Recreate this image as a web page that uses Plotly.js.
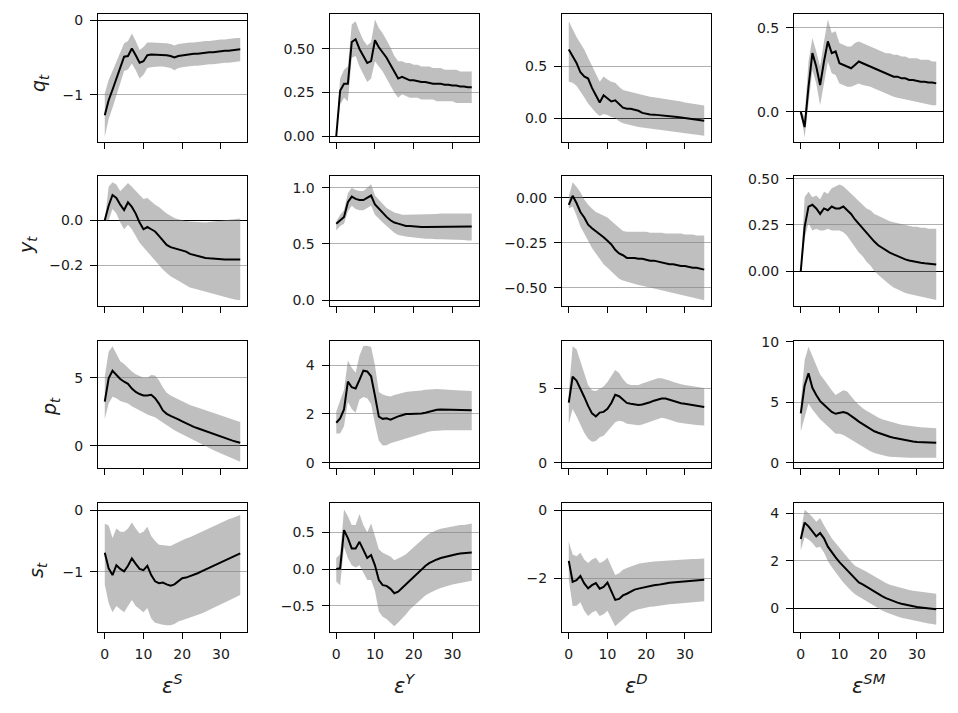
<!DOCTYPE html>
<html>
<head>
<meta charset="utf-8">
<script src="https://cdn.plot.ly/plotly-3.0.1.min.js"></script>
<style>html,body{margin:0;padding:0;background:#fff;}</style>
</head>
<body>
<div id="chart" style="width:958px;height:713px;"></div>
<script>
// ---------------- DATA ----------------
const horizons = [0,1,2,3,4,5,6,7,8,9,10,11,12,13,14,15,16,17,18,19,20,21,22,23,24,25,26,27,28,29,30,31,32,33,34,35];

const shockLabels = ["S","Y","D","SM"];
const variableLabels = ["q","y","p","s"];

// q_t
const q_S_mean = [-1.27,-1.07,-0.93,-0.78,-0.63,-0.49,-0.48,-0.38,-0.47,-0.57,-0.55,-0.47,-0.46,-0.46,-0.46,-0.46,-0.47,-0.48,-0.50,-0.48,-0.47,-0.46,-0.46,-0.45,-0.45,-0.44,-0.44,-0.43,-0.43,-0.42,-0.42,-0.41,-0.41,-0.40,-0.40,-0.39];
const q_S_hi   = [-0.98,-0.80,-0.68,-0.55,-0.42,-0.31,-0.28,-0.18,-0.28,-0.40,-0.36,-0.30,-0.30,-0.30,-0.30,-0.30,-0.31,-0.32,-0.34,-0.32,-0.31,-0.31,-0.30,-0.30,-0.29,-0.29,-0.28,-0.28,-0.27,-0.27,-0.26,-0.26,-0.25,-0.25,-0.24,-0.24];
const q_S_lo   = [-1.56,-1.32,-1.17,-1.01,-0.85,-0.68,-0.66,-0.58,-0.67,-0.78,-0.73,-0.64,-0.63,-0.62,-0.62,-0.62,-0.63,-0.64,-0.67,-0.64,-0.63,-0.62,-0.62,-0.61,-0.61,-0.60,-0.60,-0.59,-0.59,-0.58,-0.58,-0.57,-0.57,-0.56,-0.56,-0.55];

const q_Y_mean = [0,0.26,0.30,0.30,0.54,0.556,0.50,0.46,0.42,0.43,0.55,0.51,0.48,0.45,0.41,0.37,0.33,0.34,0.33,0.32,0.32,0.315,0.31,0.31,0.305,0.30,0.30,0.30,0.295,0.295,0.29,0.29,0.285,0.285,0.28,0.28];
const q_Y_hi   = [0,0.33,0.38,0.40,0.64,0.66,0.60,0.55,0.52,0.54,0.67,0.62,0.59,0.55,0.51,0.46,0.43,0.43,0.42,0.42,0.41,0.41,0.40,0.40,0.40,0.39,0.39,0.39,0.38,0.38,0.38,0.38,0.37,0.37,0.37,0.37];
const q_Y_lo   = [0,0.18,0.22,0.20,0.45,0.46,0.40,0.35,0.31,0.33,0.43,0.40,0.37,0.33,0.29,0.25,0.22,0.24,0.23,0.22,0.22,0.22,0.21,0.21,0.21,0.21,0.20,0.20,0.20,0.20,0.20,0.19,0.19,0.19,0.19,0.19];

const q_D_mean = [0.66,0.60,0.53,0.44,0.40,0.38,0.29,0.22,0.15,0.22,0.19,0.16,0.17,0.13,0.10,0.09,0.09,0.08,0.07,0.05,0.04,0.035,0.033,0.03,0.028,0.025,0.02,0.015,0.01,0.005,0.0,-0.005,-0.01,-0.015,-0.02,-0.025];
const q_D_hi   = [0.93,0.85,0.78,0.72,0.66,0.58,0.50,0.42,0.35,0.40,0.37,0.35,0.34,0.30,0.27,0.26,0.25,0.24,0.23,0.22,0.21,0.205,0.20,0.195,0.19,0.185,0.18,0.17,0.165,0.16,0.15,0.145,0.14,0.13,0.125,0.12];
const q_D_lo   = [0.35,0.34,0.31,0.26,0.20,0.14,0.09,0.05,0.02,0.04,0.03,0.01,0.0,-0.03,-0.05,-0.06,-0.07,-0.08,-0.085,-0.09,-0.095,-0.10,-0.105,-0.11,-0.115,-0.12,-0.125,-0.13,-0.135,-0.14,-0.145,-0.15,-0.155,-0.16,-0.165,-0.17];

const q_SM_mean = [0.0,-0.09,0.15,0.35,0.27,0.16,0.30,0.42,0.35,0.36,0.29,0.28,0.27,0.26,0.28,0.30,0.29,0.28,0.27,0.26,0.25,0.24,0.23,0.22,0.21,0.21,0.20,0.20,0.19,0.19,0.185,0.18,0.18,0.175,0.175,0.17];
const q_SM_hi   = [0.01,-0.03,0.30,0.44,0.36,0.27,0.42,0.55,0.47,0.48,0.41,0.40,0.39,0.39,0.41,0.42,0.41,0.40,0.39,0.38,0.37,0.36,0.35,0.35,0.34,0.34,0.33,0.33,0.32,0.32,0.32,0.31,0.31,0.31,0.30,0.30];
const q_SM_lo   = [-0.01,-0.15,0.05,0.25,0.17,0.04,0.17,0.30,0.23,0.22,0.17,0.16,0.15,0.15,0.16,0.17,0.16,0.155,0.15,0.14,0.13,0.12,0.11,0.10,0.09,0.085,0.08,0.075,0.07,0.065,0.06,0.055,0.05,0.045,0.04,0.04];

// y_t
const y_S_mean = [0.0,0.065,0.113,0.10,0.07,0.046,0.08,0.06,0.03,-0.01,-0.04,-0.03,-0.04,-0.05,-0.07,-0.09,-0.11,-0.12,-0.125,-0.13,-0.135,-0.14,-0.15,-0.155,-0.16,-0.164,-0.168,-0.17,-0.172,-0.173,-0.174,-0.175,-0.175,-0.175,-0.175,-0.175];
const y_S_hi   = [0.0,0.15,0.17,0.16,0.13,0.15,0.167,0.15,0.13,0.11,0.095,0.10,0.085,0.07,0.06,0.045,0.03,0.02,0.01,0.005,0.0,-0.003,-0.005,-0.007,-0.009,-0.01,-0.01,-0.008,-0.006,-0.004,-0.002,0.0,0.002,0.004,0.006,0.008];
const y_S_lo   = [0.0,0.0,0.05,0.03,-0.01,-0.04,-0.02,-0.04,-0.07,-0.10,-0.12,-0.14,-0.16,-0.18,-0.20,-0.22,-0.235,-0.25,-0.26,-0.27,-0.28,-0.29,-0.30,-0.305,-0.31,-0.315,-0.32,-0.325,-0.33,-0.335,-0.34,-0.345,-0.35,-0.352,-0.355,-0.357];

const y_Y_mean = [0.68,0.71,0.74,0.87,0.92,0.90,0.89,0.89,0.91,0.93,0.85,0.81,0.78,0.74,0.71,0.69,0.68,0.67,0.66,0.66,0.655,0.655,0.65,0.65,0.65,0.65,0.65,0.655,0.655,0.655,0.655,0.655,0.655,0.655,0.655,0.655];
const y_Y_hi   = [0.70,0.76,0.80,0.95,1.00,0.98,0.97,0.97,1.00,1.03,0.93,0.89,0.86,0.82,0.80,0.78,0.77,0.76,0.76,0.76,0.76,0.76,0.76,0.76,0.76,0.765,0.765,0.77,0.77,0.77,0.77,0.77,0.77,0.77,0.77,0.77];
const y_Y_lo   = [0.62,0.66,0.68,0.79,0.84,0.81,0.80,0.80,0.82,0.84,0.76,0.72,0.69,0.66,0.63,0.60,0.58,0.57,0.565,0.56,0.555,0.55,0.55,0.545,0.545,0.54,0.54,0.54,0.54,0.535,0.535,0.535,0.535,0.535,0.53,0.53];

const y_D_mean = [-0.04,0.01,-0.03,-0.08,-0.11,-0.15,-0.17,-0.185,-0.20,-0.22,-0.24,-0.26,-0.29,-0.31,-0.32,-0.335,-0.335,-0.335,-0.34,-0.34,-0.345,-0.35,-0.35,-0.355,-0.36,-0.365,-0.37,-0.37,-0.375,-0.38,-0.38,-0.385,-0.39,-0.39,-0.395,-0.40];
const y_D_hi   = [0.005,0.085,0.06,0.03,-0.01,-0.04,-0.06,-0.08,-0.09,-0.10,-0.11,-0.13,-0.15,-0.17,-0.185,-0.19,-0.19,-0.19,-0.19,-0.19,-0.19,-0.195,-0.195,-0.195,-0.195,-0.2,-0.2,-0.2,-0.2,-0.2,-0.205,-0.205,-0.205,-0.21,-0.21,-0.21];
const y_D_lo   = [-0.06,-0.05,-0.10,-0.16,-0.20,-0.24,-0.28,-0.31,-0.34,-0.37,-0.39,-0.41,-0.43,-0.45,-0.46,-0.467,-0.475,-0.48,-0.485,-0.49,-0.495,-0.50,-0.505,-0.51,-0.515,-0.52,-0.525,-0.53,-0.535,-0.54,-0.545,-0.55,-0.555,-0.56,-0.565,-0.57];

const y_SM_mean = [0.0,0.24,0.35,0.36,0.34,0.31,0.34,0.33,0.35,0.34,0.34,0.35,0.33,0.31,0.28,0.255,0.23,0.205,0.18,0.16,0.14,0.125,0.11,0.10,0.09,0.08,0.07,0.063,0.057,0.052,0.048,0.045,0.042,0.039,0.037,0.035];
const y_SM_hi   = [0.0,0.40,0.43,0.40,0.41,0.39,0.43,0.42,0.45,0.46,0.47,0.46,0.44,0.42,0.40,0.38,0.36,0.34,0.33,0.31,0.30,0.29,0.28,0.27,0.265,0.26,0.255,0.25,0.245,0.24,0.24,0.235,0.235,0.23,0.23,0.23];
const y_SM_lo   = [0.0,0.18,0.26,0.22,0.23,0.22,0.22,0.23,0.22,0.22,0.22,0.21,0.19,0.16,0.13,0.10,0.08,0.05,0.03,0.0,-0.02,-0.04,-0.06,-0.075,-0.09,-0.10,-0.11,-0.12,-0.125,-0.13,-0.135,-0.14,-0.145,-0.15,-0.155,-0.158];

// p_t
const p_S_mean = [3.24,4.95,5.5,5.2,4.9,4.7,4.55,4.2,3.95,3.8,3.7,3.7,3.75,3.5,3.1,2.6,2.35,2.2,2.1,1.95,1.8,1.65,1.5,1.4,1.3,1.2,1.07,0.95,0.85,0.75,0.65,0.55,0.47,0.39,0.31,0.24];
const p_S_hi   = [5.07,6.9,7.3,6.7,6.2,6.0,5.7,5.45,5.25,5.1,5.0,5.0,5.2,5.15,4.8,4.3,3.9,3.7,3.55,3.45,3.3,3.15,3.0,2.9,2.8,2.7,2.6,2.5,2.45,2.35,2.25,2.15,2.05,1.95,1.85,1.75];
const p_S_lo   = [1.95,3.1,3.6,3.5,3.3,3.2,3.1,2.9,2.75,2.55,2.4,2.3,2.2,2.1,1.9,1.7,1.5,1.3,1.15,1.0,0.85,0.7,0.55,0.4,0.25,0.1,-0.05,-0.2,-0.3,-0.42,-0.55,-0.65,-0.78,-0.9,-1.05,-1.15];

const p_Y_mean = [1.64,1.82,2.19,3.33,3.1,3.05,3.4,3.78,3.75,3.55,2.75,1.89,1.8,1.82,1.77,1.85,1.9,1.95,2.0,2.0,2.0,2.0,2.02,2.05,2.1,2.15,2.17,2.18,2.18,2.18,2.17,2.16,2.16,2.15,2.15,2.15];
const p_Y_hi   = [2.1,2.6,3.0,4.2,3.9,3.7,4.4,4.79,4.8,4.75,4.0,2.9,2.8,2.75,2.72,2.78,2.83,2.87,2.9,2.92,2.93,2.95,2.97,3.0,3.02,3.03,3.03,3.02,3.0,3.0,2.99,2.98,2.97,2.96,2.95,2.95];
const p_Y_lo   = [1.2,1.2,1.5,2.5,2.2,2.05,2.6,2.7,2.65,2.4,1.6,0.9,0.7,0.72,0.8,0.85,0.9,0.95,1.0,1.05,1.1,1.15,1.2,1.25,1.28,1.3,1.32,1.33,1.33,1.33,1.33,1.33,1.33,1.33,1.33,1.33];

const p_D_mean = [4.02,5.76,5.5,5.0,4.4,3.8,3.3,3.1,3.35,3.4,3.6,4.0,4.55,4.45,4.2,4.0,3.95,3.9,3.87,3.9,3.95,4.05,4.15,4.25,4.3,4.3,4.22,4.12,4.05,3.98,3.94,3.9,3.86,3.82,3.78,3.73];
const p_D_hi   = [4.7,7.8,7.6,6.8,5.9,5.2,4.85,4.8,4.95,5.1,5.4,5.8,6.2,6.0,5.6,5.3,5.2,5.2,5.2,5.3,5.4,5.5,5.6,5.65,5.65,5.6,5.5,5.4,5.3,5.25,5.2,5.15,5.1,5.05,5.0,5.0];
const p_D_lo   = [2.6,3.6,3.1,2.5,2.0,1.6,1.4,1.45,1.7,1.8,2.1,2.4,2.7,2.8,2.75,2.6,2.55,2.5,2.5,2.55,2.65,2.75,2.85,2.95,3.0,2.95,2.85,2.75,2.7,2.65,2.6,2.57,2.55,2.52,2.5,2.48];

const p_SM_mean = [4.09,6.4,7.4,6.2,5.6,5.1,4.8,4.5,4.2,4.05,4.1,4.2,4.1,3.9,3.65,3.4,3.2,3.0,2.8,2.6,2.48,2.36,2.25,2.15,2.07,2.0,1.93,1.87,1.8,1.75,1.72,1.7,1.68,1.67,1.66,1.65];
const p_SM_hi   = [5.0,8.5,9.6,8.8,8.0,7.3,6.9,6.4,6.0,5.6,5.8,6.0,5.9,5.5,5.1,4.8,4.5,4.3,4.1,3.9,3.75,3.6,3.5,3.4,3.3,3.2,3.15,3.1,3.05,3.0,2.97,2.94,2.92,2.9,2.88,2.85];
const p_SM_lo   = [2.6,3.8,4.9,4.4,4.0,3.6,3.3,3.0,2.7,2.4,2.4,2.3,2.1,1.9,1.7,1.5,1.3,1.1,0.95,0.8,0.7,0.6,0.55,0.5,0.47,0.45,0.43,0.42,0.41,0.4,0.4,0.4,0.4,0.4,0.4,0.4];

// s_t
const s_S_mean = [-0.69,-0.94,-1.05,-0.89,-0.95,-0.99,-0.9,-0.78,-0.87,-0.95,-0.97,-0.9,-1.05,-1.15,-1.18,-1.17,-1.2,-1.22,-1.2,-1.15,-1.1,-1.09,-1.07,-1.05,-1.02,-0.99,-0.96,-0.93,-0.9,-0.87,-0.84,-0.81,-0.78,-0.76,-0.73,-0.7];
const s_S_hi   = [-0.22,-0.25,-0.45,-0.3,-0.35,-0.35,-0.3,-0.2,-0.3,-0.38,-0.35,-0.27,-0.42,-0.5,-0.56,-0.57,-0.58,-0.58,-0.55,-0.52,-0.48,-0.46,-0.44,-0.41,-0.38,-0.35,-0.32,-0.29,-0.26,-0.24,-0.21,-0.18,-0.15,-0.13,-0.1,-0.08];
const s_S_lo   = [-1.2,-1.5,-1.65,-1.55,-1.6,-1.65,-1.55,-1.45,-1.55,-1.6,-1.65,-1.58,-1.75,-1.82,-1.84,-1.85,-1.86,-1.86,-1.84,-1.8,-1.78,-1.76,-1.74,-1.72,-1.7,-1.67,-1.64,-1.61,-1.58,-1.55,-1.52,-1.49,-1.46,-1.43,-1.4,-1.37];

const s_Y_mean = [0.0,0.01,0.53,0.42,0.28,0.28,0.37,0.25,0.15,0.19,0.05,-0.15,-0.22,-0.23,-0.27,-0.33,-0.31,-0.26,-0.21,-0.15,-0.1,-0.05,0.0,0.04,0.08,0.11,0.13,0.15,0.165,0.18,0.19,0.2,0.21,0.215,0.22,0.225];
const s_Y_hi   = [0.15,0.2,0.81,0.72,0.6,0.6,0.75,0.6,0.5,0.62,0.45,0.27,0.22,0.2,0.17,0.12,0.14,0.17,0.2,0.25,0.3,0.35,0.4,0.44,0.48,0.51,0.53,0.55,0.56,0.57,0.58,0.59,0.6,0.6,0.61,0.62];
const s_Y_lo   = [-0.17,-0.22,0.3,0.15,0.05,0.02,0.05,-0.05,-0.15,-0.15,-0.3,-0.58,-0.65,-0.68,-0.73,-0.78,-0.73,-0.68,-0.62,-0.55,-0.5,-0.45,-0.4,-0.36,-0.33,-0.3,-0.28,-0.26,-0.24,-0.22,-0.21,-0.2,-0.19,-0.18,-0.17,-0.16];

const s_D_mean = [-1.49,-2.1,-2.05,-1.93,-2.15,-2.29,-2.2,-2.14,-2.3,-2.25,-2.12,-2.4,-2.63,-2.6,-2.5,-2.45,-2.38,-2.33,-2.3,-2.27,-2.24,-2.22,-2.2,-2.19,-2.18,-2.15,-2.13,-2.12,-2.1,-2.09,-2.08,-2.07,-2.06,-2.05,-2.05,-2.04];
const s_D_hi   = [-0.93,-1.3,-1.35,-1.25,-1.45,-1.55,-1.45,-1.4,-1.55,-1.5,-1.4,-1.65,-1.9,-1.85,-1.75,-1.7,-1.65,-1.6,-1.57,-1.55,-1.53,-1.52,-1.51,-1.5,-1.49,-1.48,-1.47,-1.46,-1.45,-1.45,-1.44,-1.44,-1.43,-1.43,-1.42,-1.42];
const s_D_lo   = [-2.05,-2.81,-2.8,-2.7,-2.95,-3.1,-3.0,-2.95,-3.1,-3.05,-2.95,-3.2,-3.4,-3.3,-3.2,-3.1,-3.0,-2.95,-2.9,-2.88,-2.85,-2.83,-2.82,-2.8,-2.78,-2.77,-2.76,-2.75,-2.74,-2.73,-2.72,-2.71,-2.7,-2.69,-2.68,-2.67];

const s_SM_mean = [2.92,3.61,3.45,3.25,3.03,3.17,2.95,2.6,2.35,2.15,1.95,1.78,1.6,1.42,1.25,1.1,1.02,0.92,0.8,0.7,0.6,0.52,0.44,0.37,0.3,0.25,0.2,0.16,0.13,0.1,0.07,0.05,0.03,0.0,-0.02,-0.03];
const s_SM_hi   = [3.2,4.15,4.0,3.85,3.65,3.8,3.5,3.2,2.95,2.75,2.55,2.35,2.15,1.97,1.8,1.7,1.63,1.55,1.45,1.35,1.25,1.15,1.07,1.0,0.95,0.9,0.85,0.81,0.78,0.75,0.72,0.7,0.68,0.66,0.64,0.62];
const s_SM_lo   = [2.45,3.0,2.9,2.75,2.55,2.6,2.35,2.0,1.75,1.5,1.3,1.1,0.9,0.75,0.6,0.5,0.4,0.3,0.2,0.1,0.0,-0.08,-0.15,-0.22,-0.28,-0.33,-0.38,-0.42,-0.46,-0.5,-0.54,-0.57,-0.6,-0.63,-0.65,-0.68];

// tick labels
const xTicks = [0,10,20,30];
const yt_q_S = [-1,0],        yt_q_Y = [0,0.25,0.5],   yt_q_D = [0,0.5],          yt_q_SM = [0,0.5];
const yt_y_S = [-0.2,0],      yt_y_Y = [0,0.5,1],      yt_y_D = [-0.5,-0.25,0],   yt_y_SM = [0,0.25,0.5];
const yt_p_S = [0,5],         yt_p_Y = [0,2,4],        yt_p_D = [0,5],            yt_p_SM = [0,5,10];
const yt_s_S = [-1,0],        yt_s_Y = [-0.5,0,0.5],   yt_s_D = [-2,0],           yt_s_SM = [0,2,4];

// ---------------- PANELS ----------------
const panels = [
  [q_S_mean,q_S_lo,q_S_hi,yt_q_S,'d',[-1.627,0.08]],
  [q_Y_mean,q_Y_lo,q_Y_hi,yt_q_Y,'.2f',[-0.0345,0.701]],
  [q_D_mean,q_D_lo,q_D_hi,yt_q_D,'.1f',[-0.23,1.0]],
  [q_SM_mean,q_SM_lo,q_SM_hi,yt_q_SM,'.1f',[-0.179,0.583]],
  [y_S_mean,y_S_lo,y_S_hi,yt_y_S,'.1f',[-0.383,0.198]],
  [y_Y_mean,y_Y_lo,y_Y_hi,yt_y_Y,'.1f',[-0.053,1.104]],
  [y_D_mean,y_D_lo,y_D_hi,yt_y_D,'.2f',[-0.602,0.12]],
  [y_SM_mean,y_SM_lo,y_SM_hi,yt_y_SM,'.2f',[-0.19,0.516]],
  [p_S_mean,p_S_lo,p_S_hi,yt_p_S,'d',[-1.61,7.68]],
  [p_Y_mean,p_Y_lo,p_Y_hi,yt_p_Y,'d',[-0.22,5.0]],
  [p_D_mean,p_D_lo,p_D_hi,yt_p_D,'d',[-0.36,8.15]],
  [p_SM_mean,p_SM_lo,p_SM_hi,yt_p_SM,'d',[-0.44,10.08]],
  [s_S_mean,s_S_lo,s_S_hi,yt_s_S,'d',[-1.963,0.108]],
  [s_Y_mean,s_Y_lo,s_Y_hi,yt_s_Y,'.1f',[-0.854,0.895]],
  [s_D_mean,s_D_lo,s_D_hi,yt_s_D,'d',[-3.56,0.196]],
  [s_SM_mean,s_SM_lo,s_SM_hi,yt_s_SM,'d',[-0.97,4.42]]
];

const W = 958, H = 713;
const colLeft = [98, 329.5, 562, 794], plotW = 149;
const rowTop = [14, 176, 341, 503.3], rowBot = [142, 306, 468, 631.7];
const tickFont = {family:'DejaVu Sans, sans-serif', size:14, color:'#1a1a1a'};
const yLabelFont = {family:'DejaVu Sans, sans-serif', size:19, color:'#1a1a1a'};
const xLabelFont = {family:'DejaVu Sans, sans-serif', size:21, color:'#1a1a1a'};

const traces = [];
const layout = {
  width: W, height: H,
  margin: {l:0, r:0, t:0, b:0, pad:0},
  paper_bgcolor: '#ffffff', plot_bgcolor: '#ffffff',
  showlegend: false,
  annotations: []
};

panels.forEach((p, i) => {
  const r = Math.floor(i/4), c = i % 4;
  const n = i + 1;
  const xa = 'x' + (n===1?'':n), ya = 'y' + (n===1?'':n);
  traces.push({x: horizons, y: p[1], xaxis: xa, yaxis: ya, mode:'lines', line:{width:0, color:'rgba(0,0,0,0)'}, hoverinfo:'skip'});
  traces.push({x: horizons, y: p[2], xaxis: xa, yaxis: ya, mode:'lines', line:{width:0, color:'rgba(0,0,0,0)'}, fill:'tonexty', fillcolor:'rgba(128,128,128,0.5)', hoverinfo:'skip'});
  traces.push({x: horizons, y: p[0], xaxis: xa, yaxis: ya, mode:'lines', line:{width:2, color:'#000000'}});

  layout['xaxis' + (n===1?'':n)] = {
    domain: [colLeft[c]/W, (colLeft[c]+plotW)/W],
    anchor: ya, range: [-1.75, 36.75],
    tickmode: 'array', tickvals: xTicks,
    showticklabels: r === 3,
    ticks: 'outside', ticklen: 6, tickwidth: 1, tickcolor: '#000',
    showgrid: false, zeroline: false,
    showline: true, mirror: true, linecolor: '#000', linewidth: 1,
    tickfont: tickFont, ticklabelstandoff: 3,
    layer: 'above traces', fixedrange: true
  };
  layout['yaxis' + (n===1?'':n)] = {
    domain: [1 - rowBot[r]/H, 1 - rowTop[r]/H],
    anchor: xa, range: p[5],
    tickmode: 'array', tickvals: p[3], tickformat: p[4],
    ticks: 'outside', ticklen: 7, tickwidth: 1, tickcolor: '#000',
    showgrid: true, gridcolor: '#b0b0b0', gridwidth: 1,
    zeroline: true, zerolinecolor: '#000', zerolinewidth: 1,
    showline: true, mirror: true, linecolor: '#000', linewidth: 1,
    tickfont: tickFont, ticklabelstandoff: 4,
    layer: 'above traces', fixedrange: true
  };
});

// y labels (variables)
const yLabelX = [40, 27, 51, 37];
const yLabelY = [83, 245, 407, 570];
variableLabels.forEach((v, r) => {
  layout.annotations.push({
    xref:'paper', yref:'paper', x: yLabelX[r]/W, y: 1 - yLabelY[r]/H,
    xanchor:'center', yanchor:'middle', showarrow:false, textangle:-90,
    text: '<i>' + v + '</i><sub><i>t</i></sub>', font: yLabelFont
  });
});
// x labels (shocks)
shockLabels.forEach((s, c) => {
  layout.annotations.push({
    xref:'paper', yref:'paper', x: (colLeft[c] + plotW/2)/W, y: 1 - 684/H,
    xanchor:'center', yanchor:'middle', showarrow:false,
    text: '<i>ε</i><sup><i>' + s + '</i></sup>', font: xLabelFont
  });
});

Plotly.newPlot('chart', traces, layout, {staticPlot:true, displayModeBar:false});
</script>
</body>
</html>
